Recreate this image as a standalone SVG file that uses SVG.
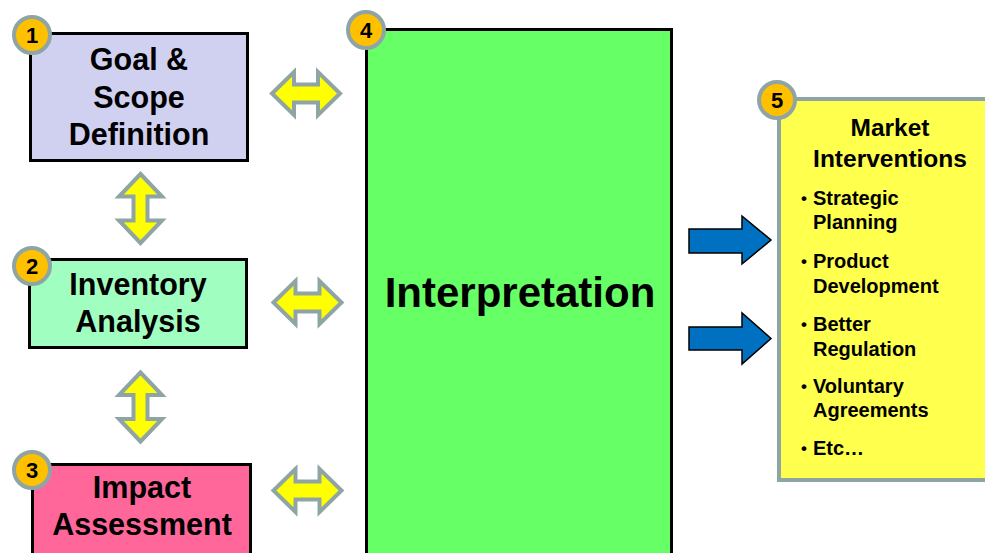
<svg xmlns="http://www.w3.org/2000/svg" xmlns:xlink="http://www.w3.org/1999/xlink" width="985" height="553" viewBox="0 0 985 553">
<style>
text { font-family: "Liberation Sans", Arial, sans-serif; font-weight: bold; fill: #000; }
.box { stroke: #000; stroke-width: 3; }
.badge { fill: #FFC000; stroke: #8FA5A5; stroke-width: 4; }
.num { font-size: 22px; text-anchor: middle; }
.big { font-size: 30.5px; text-anchor: middle; }
.dbl { fill: #FFFF00; stroke: #8FA5A5; stroke-width: 4; stroke-linejoin: miter; }
.blue { fill: #0070C0; stroke: #000; stroke-width: 1.5; }
.title5 { font-size: 24.5px; text-anchor: middle; }
.bul { font-size: 20px; }
.dot { font-size: 17px; }
</style>
<defs>
<path id="hdbl" d="M-34,0 L-12,-21.5 L-12,-9 L12,-9 L12,-21.5 L34,0 L12,21.5 L12,9 L-12,9 L-12,21.5 Z"/>
<path id="vdbl" d="M0,-34.5 L21.5,-12 L7,-12 L7,12 L21.5,12 L0,34.5 L-21.5,12 L-7,12 L-7,-12 L-21.5,-12 Z"/>
</defs>
<rect width="985" height="553" fill="#fff"/>

<g id="connectors">
<use xlink:href="#vdbl" class="dbl" transform="translate(140.5,208.5)"/>
<use xlink:href="#vdbl" class="dbl" transform="translate(140.5,407)"/>
<use xlink:href="#hdbl" class="dbl" transform="translate(306,93.5)"/>
<use xlink:href="#hdbl" class="dbl" transform="translate(307.5,302.5)"/>
<use xlink:href="#hdbl" class="dbl" transform="translate(307.5,490.5)"/>
<path class="blue" d="M689,229 L742,229 L742,216 L771,240 L742,264 L742,253 L689,253 Z"/>
<path class="blue" d="M689,327 L742,327 L742,313 L771,338.5 L742,364 L742,350 L689,350 Z"/>
</g>

<g id="node1">
<rect class="box" x="30.5" y="33.5" width="217" height="127" fill="#D0D0F0"/>
<text class="big" x="139" y="70">Goal &amp;</text>
<text class="big" x="139" y="108">Scope</text>
<text class="big" x="139" y="145">Definition</text>
<circle class="badge" cx="32" cy="35" r="18"/>
<text class="num" x="32" y="43">1</text>
</g>

<g id="node2">
<rect class="box" x="29.5" y="259.5" width="217" height="88" fill="#A0FFC0"/>
<text class="big" x="138" y="295">Inventory</text>
<text class="big" x="138" y="332">Analysis</text>
<circle class="badge" cx="32" cy="266" r="18"/>
<text class="num" x="32" y="274">2</text>
</g>

<g id="node3">
<rect class="box" x="32.5" y="464.5" width="218" height="100" fill="#FF6699"/>
<text class="big" x="142" y="498">Impact</text>
<text class="big" x="142" y="535">Assessment</text>
<circle class="badge" cx="32" cy="470" r="18"/>
<text class="num" x="32" y="478">3</text>
</g>

<g id="node4">
<rect class="box" x="366.5" y="29.5" width="305" height="540" fill="#66FF66"/>
<text x="520" y="307" font-size="42" text-anchor="middle">Interpretation</text>
<circle class="badge" cx="366" cy="30" r="18"/>
<text class="num" x="366" y="38">4</text>
</g>

<g id="node5">
<rect x="779" y="99" width="220" height="381" fill="#FFFF4D" stroke="#8FA5A5" stroke-width="4"/>
<text class="title5" x="890" y="136">Market</text>
<text class="title5" x="890" y="167">Interventions</text>
<g class="bul">
<text class="dot" x="801" y="204">•</text><text x="813" y="205">Strategic</text>
<text x="813" y="229">Planning</text>
<text class="dot" x="801" y="267">•</text><text x="813" y="268">Product</text>
<text x="813" y="293">Development</text>
<text class="dot" x="801" y="330">•</text><text x="813" y="331">Better</text>
<text x="813" y="356">Regulation</text>
<text class="dot" x="801" y="392">•</text><text x="813" y="393">Voluntary</text>
<text x="813" y="417">Agreements</text>
<text class="dot" x="801" y="454">•</text><text x="813" y="455">Etc…</text>
</g>
<circle class="badge" cx="777" cy="100" r="18"/>
<text class="num" x="777" y="108">5</text>
</g>
</svg>
